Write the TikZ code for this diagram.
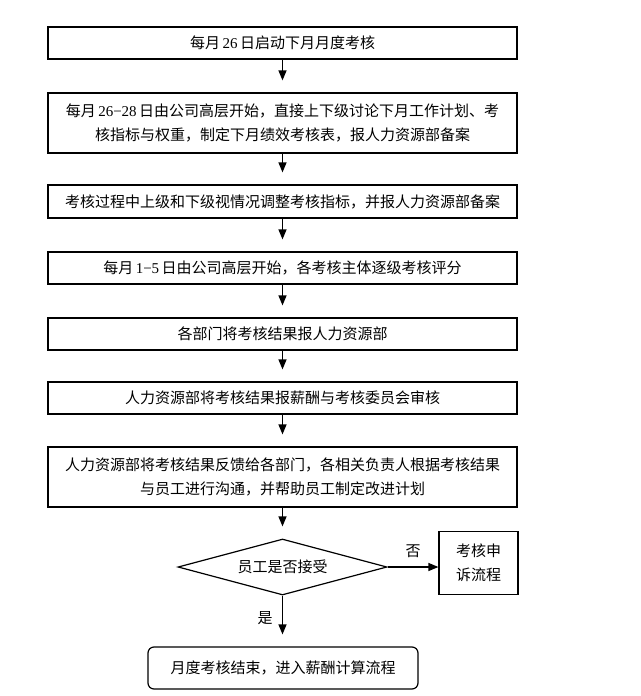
\documentclass[tikz,border=0pt]{standalone}
\usepackage{fontspec}
\setmainfont{Noto Sans CJK SC}
\newfontfamily\latn{Liberation Serif}
\usetikzlibrary{shapes.geometric,arrows.meta}
\begin{document}
\begin{tikzpicture}[x=1pt,y=-1pt,
  every node/.style={font=\fontsize{15}{24}\selectfont},
  stepbox/.style={draw,line width=1.2pt,minimum width=469pt,inner sep=0pt,align=center},
  arr/.style={line width=1.2pt,-{Triangle[length=10pt,width=8pt]}},
  gap/.style={shorten >=12pt}]
\useasboundingbox (0,0) rectangle (640,696);
\fill[white] (0,0) rectangle (640,696);
\node[stepbox,minimum height=32pt] (b1) at (282.5,43) {每月{\latn\,26\,}日启动下月月度考核};
\node[stepbox,minimum height=60pt] (b2) at (282.5,123) {每月{\latn\,26−28\,}日由公司高层开始，直接上下级讨论下月工作计划、考\\核指标与权重，制定下月绩效考核表，报人力资源部备案};
\node[stepbox,minimum height=33pt] (b3) at (282.5,201.5) {考核过程中上级和下级视情况调整考核指标，并报人力资源部备案};
\node[stepbox,minimum height=32pt] (b4) at (282.5,268) {每月{\latn\,1−5\,}日由公司高层开始，各考核主体逐级考核评分};
\node[stepbox,minimum height=32pt] (b5) at (282.5,334) {各部门将考核结果报人力资源部};
\node[stepbox,minimum height=32pt] (b6) at (282.5,398) {人力资源部将考核结果报薪酬与考核委员会审核};
\node[stepbox,minimum height=60pt] (b7) at (282.5,477) {人力资源部将考核结果反馈给各部门，各相关负责人根据考核结果\\与员工进行沟通，并帮助员工制定改进计划};
\node[draw,line width=1.2pt,shape=diamond,aspect=3.7,inner sep=0pt,minimum width=209pt,minimum height=56pt] (d) at (282.5,567) {员工是否接受};
\node[draw,line width=1.2pt,minimum width=79pt,minimum height=63pt,inner sep=0pt,align=center] (ap) at (478.5,563) {考核申\\诉流程};
\node[draw,line width=1.2pt,rounded corners=6pt,minimum width=270pt,minimum height=42pt,inner sep=0pt] (end) at (283,668) {月度考核结束，进入薪酬计算流程};
\draw[arr,gap] (b1) -- (b2);
\draw[arr,gap] (b2) -- (b3);
\draw[arr,gap] (b3) -- (b4);
\draw[arr,gap] (b4) -- (b5);
\draw[arr,gap] (b5) -- (b6);
\draw[arr,gap] (b6) -- (b7);
\draw[arr,gap] (b7) -- (d);
\draw[arr] (d.east) -- (d.east -| ap.west) node[midway,above=5pt] (no) {否};
\draw[arr,gap] (d.south) -- (d.south |- end.north) node[pos=0.45,left=6pt] (yes) {是};
\end{tikzpicture}
\end{document}
